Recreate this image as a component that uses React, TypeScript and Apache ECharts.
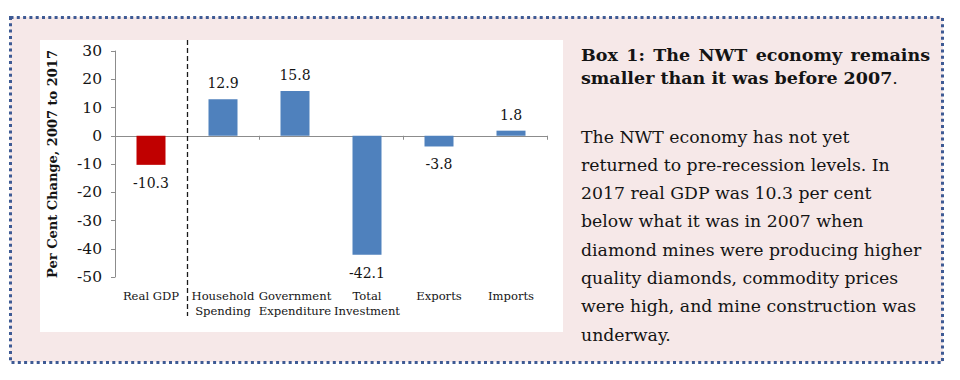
import React, { useEffect, useRef } from "react";
import * as echarts from "echarts";

const categories = ["Real GDP", "Household\nSpending", "Government\nExpenditure", "Total\nInvestment", "Exports", "Imports"];
const values = [-10.3, 12.9, 15.8, -42.1, -3.8, 1.8];
const barColors = ["#c00000", "#4f81bd", "#4f81bd", "#4f81bd", "#4f81bd", "#4f81bd"];
const yTicks = { min: -50, max: 30, interval: 10 };
const yTitle = "Per Cent Change, 2007 to 2017";
const boxTitle1 = "Box 1: The NWT economy remains";
const boxTitle2 = "smaller than it was before 2007";
const bodyLines = [
  "The NWT economy has not yet",
  "returned to pre-recession levels. In",
  "2017 real GDP was 10.3 per cent",
  "below what it was in 2007 when",
  "diamond mines were producing higher",
  "quality diamonds, commodity prices",
  "were high, and mine construction was",
  "underway.",
];

const FONT = "'DejaVu Serif', serif";
const TXT = "#141414";

export default function App() {
  const ref = useRef<HTMLDivElement>(null);
  useEffect(() => {
    document.body.style.margin = "0";
    const chart = echarts.init(ref.current!, null, { renderer: "svg" });
    const option: any = {
      animation: false,
      backgroundColor: "#ffffff",
      textStyle: { fontFamily: FONT },
      grid: { left: 115, right: 413, top: 51, bottom: 103 },
      xAxis: [
        {
          type: "category",
          data: categories,
          axisLine: { onZero: true, lineStyle: { color: "#8c8c8c", width: 1 } },
          axisTick: { show: true, length: 4, inside: false, lineStyle: { color: "#8c8c8c" } },
          axisLabel: { show: false },
        },
        {
          type: "category",
          data: categories,
          position: "bottom",
          axisLine: { show: false, onZero: false },
          axisTick: { show: false },
          axisLabel: {
            show: true,
            interval: 0,
            margin: 11,
            fontFamily: FONT,
            fontSize: 11.6,
            lineHeight: 15,
            color: TXT,
          },
        },
      ],
      yAxis: {
        type: "value",
        min: yTicks.min,
        max: yTicks.max,
        interval: yTicks.interval,
        splitLine: { show: false },
        axisLine: { show: true, lineStyle: { color: "#8c8c8c" } },
        axisTick: { show: true, length: 4, lineStyle: { color: "#8c8c8c" } },
        axisLabel: { fontFamily: FONT, fontSize: 15.5, color: TXT, margin: 13 },
        name: yTitle,
        nameLocation: "middle",
        nameRotate: 90,
        nameGap: 56,
        nameTextStyle: { fontFamily: FONT, fontSize: 13, fontWeight: "bold", color: TXT },
      },
      series: [
        {
          type: "bar",
          xAxisIndex: 0,
          barWidth: 29,
          data: values.map((v, i) => ({
            value: v,
            itemStyle: { color: barColors[i] },
            label: {
              show: true,
              position: v >= 0 ? "top" : "bottom",
              distance: v >= 0 ? 9 : 11,
              fontFamily: FONT,
              fontSize: 14,
              color: TXT,
              formatter: (p: any) => p.value.toFixed(1),
            },
          })),
        },
      ],
    };
    chart.setOption(option);

    const x0 = chart.convertToPixel({ xAxisIndex: 0 }, 0) as number;
    const x1 = chart.convertToPixel({ xAxisIndex: 0 }, 1) as number;
    const xd = Math.round((x0 + x1) / 2) + 0.5;

    // justify first title line across the text column
    const titleFont = `bold 17.5px ${FONT}`;
    const ctx = document.createElement("canvas").getContext("2d")!;
    ctx.font = titleFont;
    const words = boxTitle1.split(" ");
    const widths = words.map((w) => ctx.measureText(w).width);
    const colLeft = 581;
    const colRight = 930;
    const totalW = widths.reduce((a, b) => a + b, 0);
    const gap = (colRight - colLeft - totalW) / (words.length - 1);
    let cx = colLeft;
    const titleWords = words.map((w, i) => {
      const el = { type: "text", left: cx, top: 46, style: { text: w, font: titleFont, fill: TXT } };
      cx += widths[i] + gap;
      return el;
    });

    const graphic: any[] = [
      { type: "rect", z: -10, silent: true, shape: { x: 10, y: 17, width: 933, height: 345 }, style: { fill: "#f6e8e8" } },
      { type: "rect", z: -9, silent: true, shape: { x: 40, y: 40, width: 523, height: 292 }, style: { fill: "#ffffff" } },
      {
        type: "rect", z: 10, silent: true,
        shape: { x: 10.5, y: 17.5, width: 932, height: 345 },
        style: { fill: "none", stroke: "#3e5a94", lineWidth: 3, lineDash: [3, 3.3] },
      },
      {
        type: "line", z: 10, silent: true,
        shape: { x1: xd, y1: 40, x2: xd, y2: 316 },
        style: { stroke: "#1a1a1a", lineWidth: 1.3, lineDash: [5, 3] },
      },
      ...titleWords,
      {
        type: "text", left: colLeft, top: 69,
        style: {
          text: `{b|${boxTitle2}}{n|.}`,
          rich: {
            b: { font: titleFont, fill: TXT },
            n: { font: `17.5px ${FONT}`, fill: TXT },
          },
          fill: TXT,
        },
      },
      ...bodyLines.map((t, i) => ({
        type: "text", left: colLeft, top: 128 + i * 28.3,
        style: { text: t, font: `17.3px ${FONT}`, fill: TXT },
      })),
    ];
    chart.setOption({ graphic });
    return () => chart.dispose();
  }, []);
  return <div ref={ref} style={{ position: "fixed", left: 0, top: 0, width: 960, height: 380 }} />;
}
